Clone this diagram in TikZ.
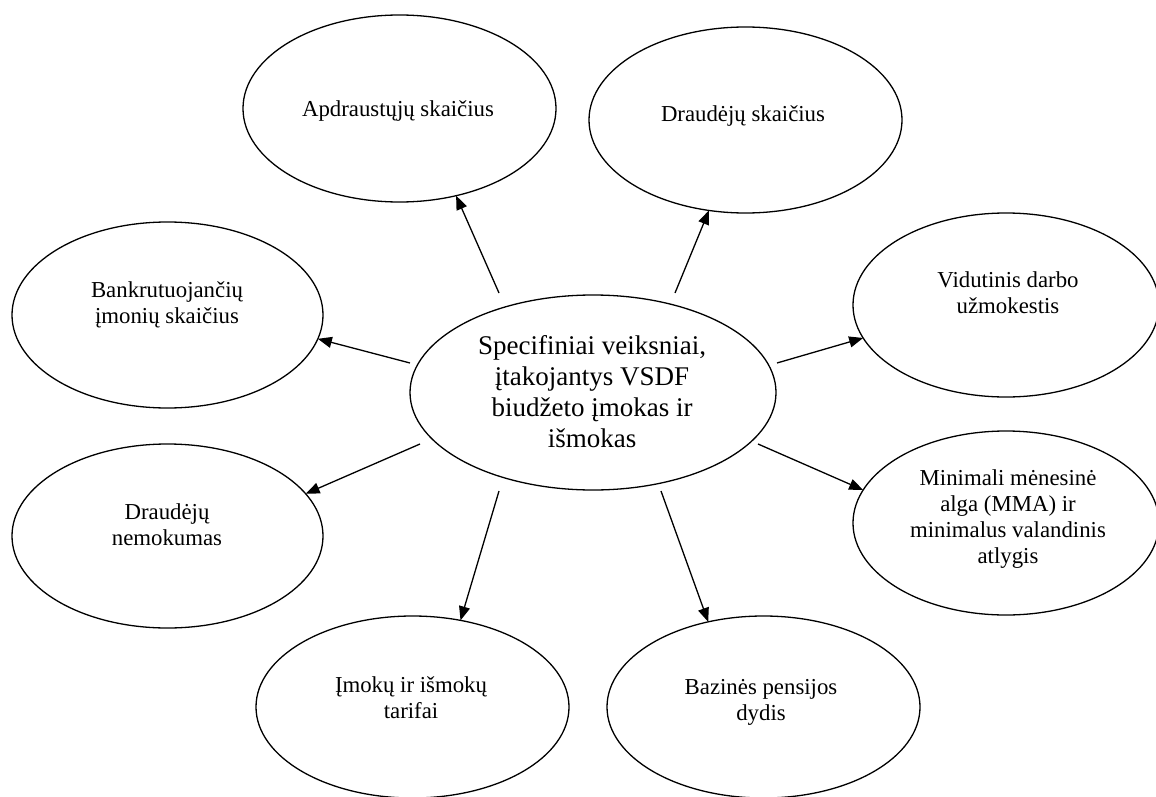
\documentclass[tikz,border=0pt]{standalone}
\usepackage{fontspec}
\setmainfont{Liberation Serif}
\usetikzlibrary{shapes.geometric,arrows.meta}

\tikzset{
  oval/.style={ellipse, draw, line width=1.3pt, inner sep=0pt, outer sep=0pt,
               minimum width=313pt, minimum height=186pt},
  lbl/.style={anchor=base, inner sep=0pt, font=\fontsize{22.8}{26.2}\selectfont},
  mainlbl/.style={anchor=base, inner sep=0pt, font=\fontsize{27}{31}\selectfont},
  link/.style={line width=1.3pt, -{Triangle[length=14pt,width=11pt]}},
}

% stacked, centred lines whose baseline is the first line
\newcommand{\stackedlines}[1]{\begin{tabular}[t]{@{}c@{}}#1\end{tabular}}

\begin{document}
\begin{tikzpicture}[x=1pt,y=-1pt]
\path[use as bounding box] (0,0) rectangle (1156,797);

% central factor
\node[oval, minimum width=366pt, minimum height=195pt] (c) at (593,392.5) {};
\node[mainlbl] (c-t) at (592,354)
  {\stackedlines{Specifiniai veiksniai,\\įtakojantys VSDF\\biudžeto įmokas ir\\išmokas}};

% surrounding factors
\node[oval, minimum height=187pt] (apd) at (399.5,108.5) {};
\node[lbl] (apd-t) at (398,117) {\stackedlines{Apdraustųjų skaičius}};

\node[oval] (drd) at (745.5,120) {};
\node[lbl] (drd-t) at (743,122) {\stackedlines{Draudėjų skaičius}};

\node[oval, minimum width=311pt] (bank) at (167.5,315) {};
\node[lbl] (bank-t) at (167,297) {\stackedlines{Bankrutuojančių\\įmonių skaičius}};

\node[oval, minimum width=306pt, minimum height=184pt] (vid) at (1006,305) {};
\node[lbl] (vid-t) at (1008,287.5) {\stackedlines{Vidutinis darbo\\užmokestis}};

\node[oval, minimum width=311pt, minimum height=184pt] (nem) at (167.5,536) {};
\node[lbl] (nem-t) at (167,519) {\stackedlines{Draudėjų\\nemokumas}};

\node[oval, minimum width=306pt, minimum height=184pt] (min) at (1006,523) {};
\node[lbl] (min-t) at (1008,485) {\stackedlines{Minimali mėnesinė\\alga (MMA) ir\\minimalus valandinis\\atlygis}};

\node[oval, minimum height=182pt] (imk) at (412.5,707) {};
\node[lbl] (imk-t) at (411,692) {\stackedlines{Įmokų ir išmokų\\tarifai}};

\node[oval, minimum height=182pt] (baz) at (763.5,707) {};
\node[lbl] (baz-t) at (761,694) {\stackedlines{Bazinės pensijos\\dydis}};

% arrow origins just outside the central ellipse
\coordinate (s1) at (499,293);
\coordinate (s2) at (675,293);
\coordinate (s3) at (410,363);
\coordinate (s4) at (777,363);
\coordinate (s5) at (420,444);
\coordinate (s6) at (758,444);
\coordinate (s7) at (499,491);
\coordinate (s8) at (661,491);

\draw[link] (s1) -- (apd.-57);
\draw[link] (s2) -- (drd.-112.6);
\draw[link] (s3) -- (bank.-9);
\draw[link] (s4) -- (vid.193.7);
\draw[link] (s5) -- (nem.17.9);
\draw[link] (s6) -- (min.167.4);
\draw[link] (s7) -- (imk.61.2);
\draw[link] (s8) -- (baz.123.3);
\end{tikzpicture}
\end{document}
